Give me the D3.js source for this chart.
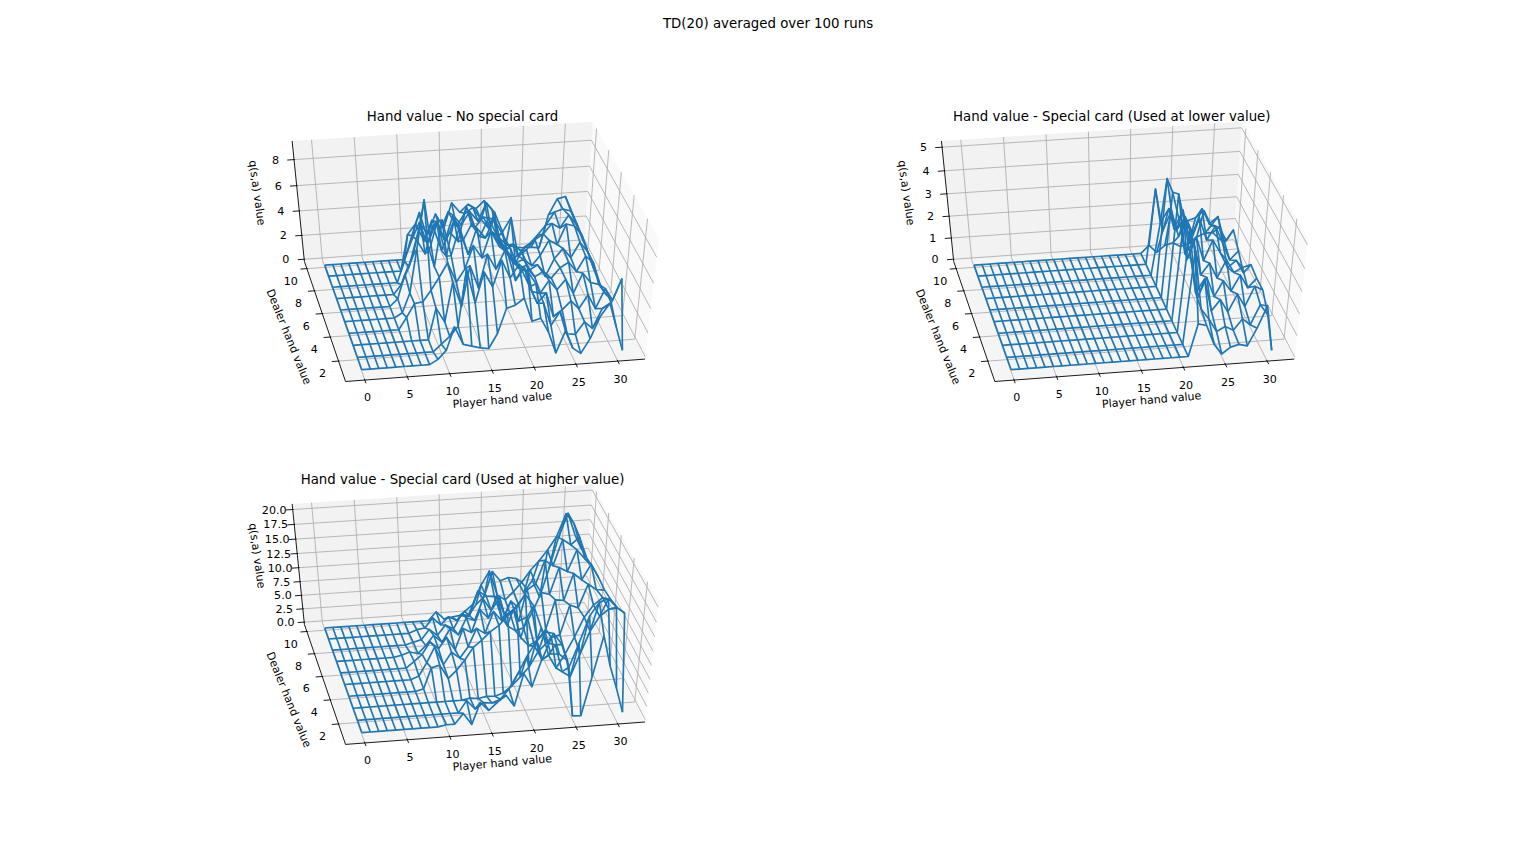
<!DOCTYPE html>
<html>
<head>
<meta charset="utf-8">
<title>TD(20) averaged over 100 runs</title>
<script src="https://cdn.jsdelivr.net/npm/d3@7"></script>
<style>
  html, body { margin: 0; padding: 0; background: #fff; }
  svg text { font-family: "DejaVu Sans", sans-serif; fill: #000; }
</style>
</head>
<body>
<div id="chart"></div>
<script>
var playerValues = d3.range(0, 32);
var dealerValues = d3.range(1, 11);
var playerTicks = [0, 5, 10, 15, 20, 25, 30];
var dealerTicks = [2, 4, 6, 8, 10];

var titles = [
  'Hand value - No special card',
  'Hand value - Special card (Used at lower value)',
  'Hand value - Special card (Used at higher value)'
];
var zTicks1 = [0, 2, 4, 6, 8];
var zTicks2 = [0, 1, 2, 3, 4, 5];
var zTicks3 = [0, 2.5, 5, 7.5, 10, 12.5, 15, 17.5, 20];
var zTops = [9.2, 5.15, 20.5];

// one row per dealer value (1 to 10), one column per player value (0 to 31)
var noSpecial = [
  [0,0,0,0,0,0,0,0,0,.4,1.1,3,1.5,1.3,1.1,1,2.2,4.2,4.4,4.9,3,3.2,2,.2,2,.5,0,1.2,3,4,2,0],
  [0,0,0,0,0,0,0,0,0,0,.6,1.2,2,6.5,3.8,6.2,5,7,5.6,6.6,6,5,3.4,1.5,2.6,.7,.6,1.6,1,2.6,3,4.9],
  [0,0,0,0,0,0,0,0,0,0,2.6,1.4,4.6,2.6,5.8,4,6.6,5.4,6.8,5.8,5.2,3.8,2.4,3.2,1.2,1.7,2.4,1.7,2.8,1.6,3.2,2.2],
  [0,0,0,0,0,0,0,1,2.1,2.2,3.1,4.1,5.2,3.6,4.6,6.4,5.4,7.4,6.2,5.6,3.4,4.4,2.4,2.2,3.2,2.4,3.2,2,3.6,2.8,2.6,1.7],
  [0,0,0,0,0,0,0,.4,2,5.5,9.2,4,7.6,4.8,7,4.8,6.8,6,7.4,6.2,5,3.4,3.6,2.6,3,2.4,3.2,3.6,2.8,4,3.4,1.6],
  [0,0,0,0,0,0,0,.6,2.6,4,6.5,4.4,6.6,3.8,6.7,5,6.2,5.2,6.6,5.2,4.2,3.2,3.8,2.2,2.6,1.6,3,3.8,3,4.2,3.4,1.8],
  [0,0,0,0,0,0,0,0,.8,2.2,4.4,3.2,5.4,3.4,4.8,4,6.7,5,5.8,4.6,3.6,2.8,1.9,2.2,1.6,2.4,3.6,3.2,4.8,4.6,3.8,2.2],
  [0,0,0,0,0,0,0,0,0,1.8,3.8,5.6,3.2,4.8,3.2,5.2,4.4,5.4,4.6,6,5.2,3.6,4.7,1.5,2,2.8,3.2,4,3.6,4.6,3.8,2.4],
  [0,0,0,0,0,0,0,0,0,0,3,3.8,2.4,4,3.2,4.6,3.4,4.4,4.8,3.8,3,2.3,1.2,1.6,1,1.5,2.2,3,4,4.2,4,2.7],
  [0,0,0,0,0,0,0,0,0,0,0,1.6,3,2,3.6,2.4,4.4,3.6,4.2,3.8,4.4,3.6,1.2,.6,.4,.3,.3,.2,2.9,4.15,4.3,2.9]
];

var lowerValue = [
  [0,0,0,0,0,0,0,0,0,0,0,0,0,0,0,0,0,0,0,0,0,0,1.5,1.4,.5,0,.3,.4,.3,1.1,2.1,0],
  [0,0,0,0,0,0,0,0,0,0,0,0,0,0,0,0,0,0,0,0,0,0,4.2,1.6,1.1,.5,.7,.5,1,.7,1.6,1.1],
  [0,0,0,0,0,0,0,0,0,0,0,0,0,0,0,0,0,0,0,0,0,0,4.6,1.8,2.4,.9,1.4,.8,1.6,1,1.9,1.7],
  [0,0,0,0,0,0,0,0,0,0,0,0,0,0,0,0,0,0,0,0,0,0,4.5,2.8,1,1.9,1,1.7,1.2,1.9,1.3,1.7],
  [0,0,0,0,0,0,0,0,0,0,0,0,0,0,0,0,0,0,0,0,0,0,5.1,2.5,3,1.5,2,1.3,2.1,1.5,1.7,1.8],
  [0,0,0,0,0,0,0,0,0,0,0,0,0,0,0,0,0,0,0,0,0,0,4.7,3.3,1.7,2.7,1.6,2.5,1.9,1.2,1.5,.9],
  [0,0,0,0,0,0,0,0,0,0,0,0,0,0,0,0,0,0,0,0,0,0,4.8,2.6,3.4,1.9,3,2,2.6,1.8,1,1.4],
  [0,0,0,0,0,0,0,0,0,0,0,0,0,0,0,0,0,0,0,0,0,0,2.4,3,2,2.6,1.8,2.9,2.2,2.5,1.3,1.85],
  [0,0,0,0,0,0,0,0,0,0,0,0,0,0,0,0,0,0,0,0,0,0,3.4,1.5,2.4,1.2,1.9,2,2.3,1.6,1.5,.85],
  [0,0,0,0,0,0,0,0,0,0,0,0,0,0,0,0,0,0,0,0,0,0,.36,0,.3,.4,.2,.3,.6,.75,.75,.4]
];

var higherValue = [
  [0,0,0,0,0,0,0,0,0,0,.3,.3,2.2,0,4,2.4,3.8,5,2.9,8.7,6.2,10.9,11.9,11.7,10.5,.2,.1,7.2,14.4,9,4.8,.2],
  [0,0,0,0,0,0,0,0,0,0,0,0,0,2.2,.5,1.6,1.4,2,3.8,6.5,9.5,12,13.6,13.2,11.2,7,11.2,15.8,18,18.5,17,15.9],
  [0,0,0,0,0,0,0,0,0,0,0,0,0,0,.3,.1,.4,.3,.8,2,3.6,5.3,8,9.5,9,4,3,7,11,13.5,14.6,14.7],
  [0,0,0,0,0,0,0,0,0,.4,4.2,4.6,2,3.4,5.2,7.4,8.6,10,11,12.6,14.2,16,14,10,5,2.5,5,8,11.4,13.4,14.6,14.1],
  [0,0,0,0,0,0,0,0,0,.6,3,5.8,2.4,4.6,3.4,5.4,8.6,7.6,11.4,9.6,13,9.4,10,4.6,2,6,6.4,11.6,11,15,14,13.8],
  [0,0,0,0,0,0,0,0,0,1.2,2.4,4.6,3.2,5.2,2.8,6.6,5.8,9.8,8.2,12,8.4,9.4,4.2,2.6,3.4,5.4,10.6,10.4,15,13.8,16.4,14],
  [0,0,0,0,0,0,0,0,.3,.8,.4,1.8,3.6,2.2,4.6,3.4,6.4,5.8,9.6,7.4,9.6,4.4,3.4,3.8,6.6,10,9.6,14.2,13.4,17,15.4,13.9],
  [0,0,0,0,0,0,0,0,0,0,.4,.8,2.6,1.4,3.2,2.4,5,4.6,9,8,7.8,3.8,4.4,6,8.6,9.6,13.6,12.6,17,16,17.2,13.6],
  [0,0,0,0,0,0,0,0,0,0,0,.6,.8,2.6,1.2,2.6,1.8,3.4,4.6,8,10.4,6,5,6.4,8,10,11.6,13.4,15.6,19.4,17.7,13.5],
  [0,0,0,0,0,0,0,0,0,0,0,0,0,0,1.6,.1,.4,.6,.3,2.4,3.7,8.3,6.5,7,6.7,4,6.2,3,8,13.5,17.6,13.8]
];

var surfaces = [noSpecial, lowerValue, higherValue];
var zTickSets = [zTicks1, zTicks2, zTicks3];

var width = 1536;
var height = 864;
var panelW = 541;
var panelH = 302.4;
var panelLeft = [192, 841.3, 192];
var panelTop = [103.7, 103.7, 466.6];

var elev = 45 * Math.PI / 180;
var azim = -100 * Math.PI / 180;
var dist = 10;

var svg = d3.select('#chart')
  .append('svg')
  .attr('width', width)
  .attr('height', height);

svg.append('text')
  .attr('x', width / 2)
  .attr('y', 28)
  .attr('text-anchor', 'middle')
  .style('font-size', '13.33px')
  .text('TD(20) averaged over 100 runs');

function dot(a, b) { return a[0] * b[0] + a[1] * b[1] + a[2] * b[2]; }
function cross(a, b) {
  return [a[1] * b[2] - a[2] * b[1], a[2] * b[0] - a[0] * b[2], a[0] * b[1] - a[1] * b[0]];
}
function norm(a) {
  var l = Math.sqrt(dot(a, a));
  return [a[0] / l, a[1] / l, a[2] / l];
}

// same camera as a matplotlib 3d axes
var w3 = [Math.cos(elev) * Math.cos(azim), Math.cos(elev) * Math.sin(azim), Math.sin(elev)];
var eye = [0.5 + dist * w3[0], 0.5 + dist * w3[1], 0.5 + dist * w3[2]];
var u3 = norm(cross([0, 0, 1], w3));
var v3 = cross(w3, u3);

function drawPanel(k) {
  var zValues = surfaces[k];

  var xLim = [-1.55, 32.55];
  var yLim = [0.55, 10.45];
  var zLim = [0, zTops[k]];

  var boxX = d3.scaleLinear().domain(xLim).range([0, 1]);
  var boxY = d3.scaleLinear().domain(yLim).range([0, 1]);
  var boxZ = d3.scaleLinear().domain(zLim).range([0, 1]);

  var screenX = d3.scaleLinear().domain([-0.095, 0.09]).range([panelLeft[k], panelLeft[k] + panelW]);
  var screenY = d3.scaleLinear().domain([-0.095, 0.09]).range([panelTop[k] + panelH, panelTop[k]]);

  function project(x, y, z) {
    var d = [boxX(x) - eye[0], boxY(y) - eye[1], boxZ(z) - eye[2]];
    var depth = -dot(d, w3);
    return [screenX(dot(d, u3) / depth), screenY(dot(d, v3) / depth)];
  }

  // panes reach 1/48 of the range past the limits
  var xPad = (xLim[1] - xLim[0]) / 48;
  var yPad = (yLim[1] - yLim[0]) / 48;
  var zPad = (zLim[1] - zLim[0]) / 48;
  var x0 = xLim[0] - xPad, x1 = xLim[1] + xPad;
  var y0 = yLim[0] - yPad, y1 = yLim[1] + yPad;
  var z0 = zLim[0] - zPad, z1 = zLim[1] + zPad;

  var line = d3.line();
  var g = svg.append('g');

  function poly(points, fill) {
    g.append('path')
      .attr('d', line(points) + 'Z')
      .attr('fill', fill)
      .attr('stroke', 'none');
  }

  poly([project(x1, y0, z0), project(x1, y1, z0), project(x1, y1, z1), project(x1, y0, z1)], '#f9f9f9');
  poly([project(x0, y1, z0), project(x1, y1, z0), project(x1, y1, z1), project(x0, y1, z1)], '#f2f2f2');
  poly([project(x0, y0, z0), project(x1, y0, z0), project(x1, y1, z0), project(x0, y1, z0)], '#f5f5f5');

  function gridLine(points) {
    g.append('path')
      .attr('d', line(points))
      .attr('fill', 'none')
      .attr('stroke', '#b0b0b0')
      .attr('stroke-width', 0.9);
  }
  function axisLine(points, w) {
    g.append('path')
      .attr('d', line(points))
      .attr('fill', 'none')
      .attr('stroke', '#000')
      .attr('stroke-width', w);
  }
  function tickLabel(p, dx, dy, s) {
    g.append('text')
      .attr('x', p[0] + dx)
      .attr('y', p[1] + dy + 4)
      .attr('text-anchor', 'middle')
      .style('font-size', '11.1px')
      .text(s);
  }

  playerTicks.forEach(function(t) {
    gridLine([project(t, y0, z0), project(t, y1, z0), project(t, y1, z1)]);
  });
  dealerTicks.forEach(function(t) {
    gridLine([project(x0, t, z0), project(x1, t, z0), project(x1, t, z1)]);
  });
  zTickSets[k].forEach(function(t) {
    gridLine([project(x0, y1, t), project(x1, y1, t), project(x1, y0, t)]);
  });

  axisLine([project(x0, y0, z0), project(x1, y0, z0)], 0.9);
  axisLine([project(x0, y0, z0), project(x0, y1, z0)], 0.9);
  axisLine([project(x0, y1, z0), project(x0, y1, z1)], 0.9);

  playerTicks.forEach(function(t) {
    axisLine([project(t, y0 - 0.25, z0), project(t, y0 + 0.1, z0)], 0.9);
    tickLabel(project(t, y0, z0), 2.7, 17.4, t);
  });
  dealerTicks.forEach(function(t) {
    axisLine([project(x0 - 0.8, t, z0), project(x0 + 0.1, t, z0)], 0.9);
    tickLabel(project(x0, t, z0), -16, 12, t);
  });
  zTickSets[k].forEach(function(t) {
    axisLine([project(x0 - 0.8, y1, t), project(x0 + 0.1, y1, t)], 0.9);
    tickLabel(project(x0, y1, t), -18.5, 0, k === 2 ? d3.format('.1f')(t) : t);
  });

  // wireframe: one line along each dealer row, one along each player column
  var wire = g.append('g')
    .attr('fill', 'none')
    .attr('stroke', '#1f77b4')
    .attr('stroke-width', 1.67)
    .attr('stroke-linejoin', 'round');

  dealerValues.forEach(function(d, i) {
    wire.append('path').attr('d', line(playerValues.map(function(p, j) {
      return project(p, d, zValues[i][j]);
    })));
  });
  playerValues.forEach(function(p, j) {
    wire.append('path').attr('d', line(dealerValues.map(function(d, i) {
      return project(p, d, zValues[i][j]);
    })));
  });

  function label(dx, dy, angle, s, size) {
    var x = panelLeft[k] + dx;
    var y = panelTop[k] + dy;
    g.append('text')
      .attr('transform', 'translate(' + x + ',' + y + ') rotate(' + angle + ')')
      .attr('text-anchor', 'middle')
      .attr('dy', '0.35em')
      .style('font-size', size)
      .text(s);
  }
  label(270.5, 12.4, 0, titles[k], '13.33px');
  label(65.3, 89, 82, 'q(s,a) value', '11.1px');
  label(97, 233, 68, 'Dealer hand value', '11.1px');
  label(310.3, 296, -5, 'Player hand value', '11.1px');
}

[0, 1, 2].forEach(drawPanel);
</script>
</body>
</html>
